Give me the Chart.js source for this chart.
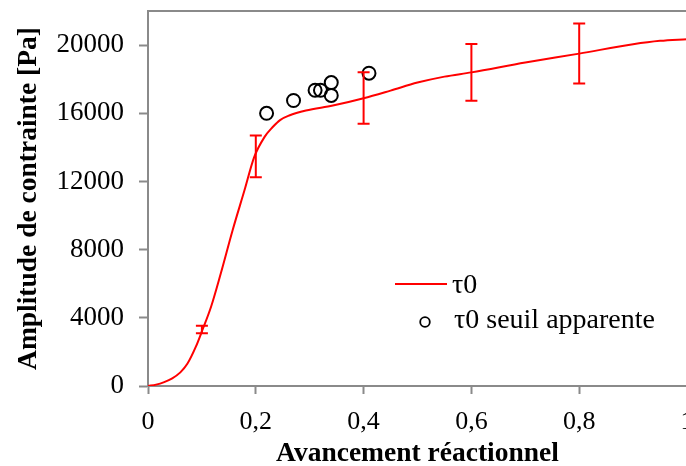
<!DOCTYPE html>
<html>
<head>
<meta charset="utf-8">
<script src="https://cdn.jsdelivr.net/npm/chart.js@4/dist/chart.umd.min.js"></script>
<style>
  html, body { margin: 0; padding: 0; background: #fff; overflow: hidden; }
  #wrap { width: 720px; height: 466px; position: relative; }
</style>
</head>
<body>
<div id="wrap"><canvas id="c" width="720" height="466"></canvas></div>
<script>
// ---- Data ----
const curveX = [0, 0.015, 0.03, 0.045, 0.06, 0.073, 0.089, 0.101, 0.117, 0.135, 0.157, 0.179, 0.197, 0.216, 0.231, 0.245, 0.262, 0.293, 0.343, 0.4, 0.45, 0.5, 0.55, 0.6, 0.7, 0.8, 0.9, 0.95, 1.0];
const curveY = [0, 80, 230, 450, 800, 1300, 2320, 3290, 4650, 6600, 9140, 11480, 13430, 14600, 15180, 15600, 15870, 16160, 16450, 16880, 17330, 17800, 18150, 18400, 18980, 19500, 20050, 20250, 20350];

const seuilX = [0.22, 0.27, 0.31, 0.32, 0.34, 0.34, 0.41];
const seuilY = [16000, 16750, 17350, 17350, 17800, 17050, 18350];

const errX    = [0.1, 0.2, 0.4, 0.6, 0.8];
const errLow  = [3100, 12250, 15380, 16740, 17750];
const errHigh = [3540, 14700, 18400, 20060, 21260];

const xTicks = [0, 0.2, 0.4, 0.6, 0.8, 1];
const yTicks = [0, 4000, 8000, 12000, 16000, 20000];

const seriesNames = ['\u03c40', '\u03c40 seuil apparente'];
const xTitle = 'Avancement r\u00e9actionnel';
const yTitle = 'Amplitude de contrainte [Pa]';

const SERIF = '"Liberation Serif", "Times New Roman", serif';
const AXIS_GREY = '#8a8a8a';

const errorBarPlugin = {
  id: 'errorBars',
  afterDatasetsDraw(chart) {
    const {ctx, scales: {x, y}} = chart;
    ctx.save();
    ctx.strokeStyle = '#ff0000';
    ctx.lineWidth = 2;
    for (let i = 0; i < errX.length; i++) {
      const px = x.getPixelForValue(errX[i]);
      const pLo = y.getPixelForValue(errLow[i]);
      const pHi = y.getPixelForValue(errHigh[i]);
      ctx.beginPath();
      ctx.moveTo(px, pLo); ctx.lineTo(px, pHi);
      ctx.moveTo(px - 6, pLo); ctx.lineTo(px + 6, pLo);
      ctx.moveTo(px - 6, pHi); ctx.lineTo(px + 6, pHi);
      ctx.stroke();
    }
    ctx.restore();
  }
};

const framePlugin = {
  id: 'frameTop',
  beforeDatasetsDraw(chart) {
    const {ctx, chartArea} = chart;
    ctx.save();
    ctx.strokeStyle = AXIS_GREY;
    ctx.lineWidth = 2;
    ctx.beginPath();
    ctx.moveTo(chartArea.left - 1, chartArea.top);
    ctx.lineTo(chartArea.right + 40, chartArea.top);
    ctx.stroke();
    ctx.restore();
  }
};

const legendPlugin = {
  id: 'innerLegend',
  afterDraw(chart) {
    const {ctx} = chart;
    ctx.save();
    ctx.font = '28px ' + SERIF;
    ctx.fillStyle = '#000';
    ctx.textBaseline = 'middle';
    ctx.textAlign = 'left';
    // line entry
    ctx.strokeStyle = '#ff0000';
    ctx.lineWidth = 2;
    ctx.beginPath();
    ctx.moveTo(395, 284); ctx.lineTo(447, 284);
    ctx.stroke();
    ctx.fillText(seriesNames[0], 452, 286);
    // circle entry
    ctx.strokeStyle = '#000';
    ctx.lineWidth = 1.8;
    ctx.beginPath();
    ctx.arc(425, 322, 4.8, 0, Math.PI * 2);
    ctx.stroke();
    ctx.fillText(seriesNames[1], 454, 321);
    ctx.restore();
  }
};

const fmt = v => {
  const r = Math.round(v * 10) / 10;
  return String(r).replace('.', ',');
};

new Chart(document.getElementById('c'), {
  type: 'line',
  data: {
    datasets: [
      {
        label: seriesNames[0],
        data: curveX.map((xv, i) => ({x: xv, y: curveY[i]})),
        borderColor: '#ff0000',
        borderWidth: 2,
        pointRadius: 0,
        cubicInterpolationMode: 'monotone',
        fill: false,
        order: 2
      },
      {
        label: seriesNames[1],
        type: 'scatter',
        data: seuilX.map((xv, i) => ({x: xv, y: seuilY[i]})),
        showLine: false,
        pointStyle: 'circle',
        pointRadius: 6.5,
        pointBorderWidth: 2,
        pointBorderColor: '#000',
        pointBackgroundColor: 'rgba(0,0,0,0)',
        borderColor: '#000',
        backgroundColor: 'rgba(0,0,0,0)',
        order: 1
      }
    ]
  },
  options: {
    responsive: false,
    animation: false,
    devicePixelRatio: 1,
    layout: { padding: { left: 0, top: 11, right: 33, bottom: 0 } },
    plugins: {
      legend: { display: false },
      tooltip: { enabled: false }
    },
    scales: {
      x: {
        type: 'linear',
        min: 0, max: 1,
        afterBuildTicks: s => { s.ticks = xTicks.map(v => ({value: v})); },
        afterFit: s => { s.height = 80; s.paddingLeft = 0; s.paddingRight = 0; },
        ticks: {
          callback: fmt,
          color: '#000',
          font: { family: SERIF, size: 26, lineHeight: 1.0 },
          padding: 15,
          maxRotation: 0,
          autoSkip: false
        },
        grid: { drawOnChartArea: false, drawTicks: true, tickLength: 8, tickColor: AXIS_GREY, tickWidth: 2 },
        border: { display: true, color: AXIS_GREY, width: 2 },
        title: {
          display: true, text: xTitle, color: '#000',
          font: { family: SERIF, size: 27.5, weight: 'bold', lineHeight: 0.9 },
          padding: { top: 0, bottom: 0 }
        }
      },
      y: {
        type: 'linear',
        min: 0, max: 22000,
        afterBuildTicks: s => { s.ticks = yTicks.map(v => ({value: v})); },
        afterFit: s => { s.width = 148; s.paddingTop = 0; s.paddingBottom = 0; },
        ticks: {
          callback: v => String(v),
          color: '#000',
          font: { family: SERIF, size: 27, lineHeight: 1.0 },
          padding: 15
        },
        grid: { drawOnChartArea: false, drawTicks: true, tickLength: 9, tickColor: AXIS_GREY, tickWidth: 2 },
        border: { display: true, color: AXIS_GREY, width: 2 },
        title: {
          display: true, text: yTitle, color: '#000',
          font: { family: SERIF, size: 27.5, weight: 'bold', lineHeight: 1.2 },
          padding: { top: 12, bottom: 0 }
        }
      }
    }
  },
  plugins: [framePlugin, errorBarPlugin, legendPlugin]
});
</script>
</body>
</html>
